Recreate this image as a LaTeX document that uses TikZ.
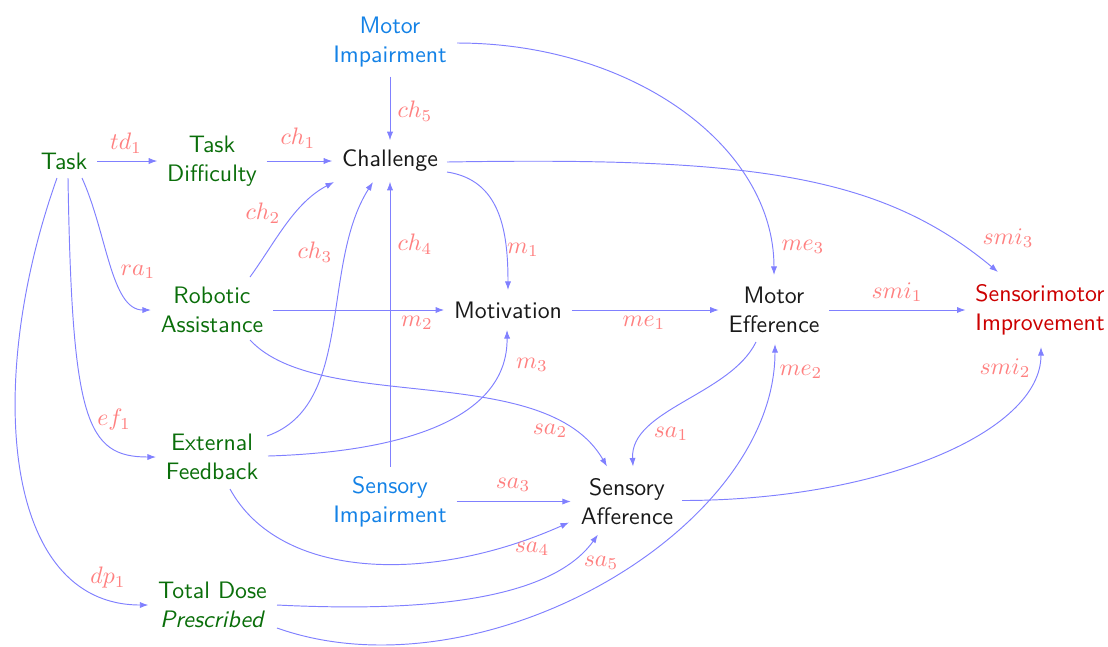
\documentclass[tikz,border=0pt]{standalone}
\usetikzlibrary{arrows.meta}
\definecolor{nodegreen}{RGB}{10,110,10}
\definecolor{impblue}{RGB}{20,130,230}
\definecolor{outred}{RGB}{204,0,0}
\definecolor{edgeblue}{RGB}{128,128,255}
\definecolor{labred}{RGB}{255,128,128}
\definecolor{nodeblack}{RGB}{25,25,25}
\begin{document}
\begin{tikzpicture}[x=0.42pt,y=0.42pt,
  box/.style={font=\sffamily, align=center, outer sep=0.8pt},
  gr/.style={box, text=nodegreen},
  bl/.style={box, text=impblue},
  rd/.style={box, text=outred},
  bk/.style={box, text=nodeblack},
  edge/.style={draw=edgeblue, line width=0.4pt, -{Latex[length=3.6pt,width=2.6pt]}},
  lab/.style={text=labred, inner sep=0pt}]
\useasboundingbox (0,0) rectangle (1108,-646);

% nodes
\node[gr] (task) at (64,-161) {Task};
\node[gr] (td) at (212,-161) {Task\\Difficulty};
\node[bk] (ch) at (390,-161) {Challenge};
\node[bl] (mi) at (390,-42) {Motor\\Impairment};
\node[gr] (ra) at (212,-310) {Robotic\\Assistance};
\node[bk] (mot) at (508,-310) {Motivation};
\node[bk] (me) at (774,-310) {Motor\\Efference};
\node[rd] (smi) at (1040,-310) {Sensorimotor\\Improvement};
\node[gr] (ef) at (212,-457) {External\\Feedback};
\node[bl] (sip) at (390,-501.5) {Sensory\\Impairment};
\node[bk] (sa) at (627,-501.5) {Sensory\\Afference};
\node[gr] (dose) at (212.5,-605) {Total Dose\\\textit{Prescribed}};

% straight connectors
\draw[edge] (task) -- (td);
\draw[edge] (td) -- (ch);
\draw[edge] (mi) -- (ch);
\draw[edge] (sip) -- (ch);
\draw[edge] (ra) -- (mot);
\draw[edge] (mot) -- (me);
\draw[edge] (sip) -- (sa);
\draw[edge] (me) -- (smi);

% curved connectors
\draw[edge] ([shift={(38,33)}]ra.center) .. controls +(26,36) and +(-40,-21) .. ([shift={(-56,-21)}]ch.center);
\draw[edge] ([shift={(55,21)}]ef.center) .. controls +(88,31) and +(-53,-83) .. ([shift={(-17,-21)}]ch.center);
\draw[edge] ([shift={(18,-17)}]task.center) .. controls +(25,-55) and +(-40,0) .. (ra.west);
\draw[edge] ([shift={(4,-17)}]task.center) .. controls +(4,-242) and +(-70,0) .. (ef.west);
\draw[edge] ([shift={(-7,-17)}]task.center) .. controls +(-72,-202) and +(-147,0) .. (dose.west);
\draw[edge] ([shift={(57,-11)}]ch.center) .. controls +(53,-8) and +(0,60) .. ([shift={(0,20)}]mot.center);
\draw[edge] ([shift={(56,1)}]ef.center) .. controls +(132,4) and +(1,-90) .. ([shift={(-1,-20)}]mot.center);
\draw[edge] ([shift={(67,-1)}]mi.center) .. controls +(175,0) and +(0,129) .. ([shift={(0,35)}]me.center);
\draw[edge] ([shift={(64.5,-23)}]dose.center) .. controls +(203,-72) and +(0,-187) .. ([shift={(1,-34)}]me.center);
\draw[edge] ([shift={(-18,-32)}]me.center) .. controls +(-26,-53) and +(-3,57) .. ([shift={(6,35)}]sa.center);
\draw[edge] ([shift={(38,-30)}]ra.center) .. controls +(70,-75) and +(-62,107) .. ([shift={(-20,35)}]sa.center);
\draw[edge] ([shift={(18,-32)}]ef.center) .. controls +(50,-91) and +(-139,-62) .. ([shift={(-58,-21)}]sa.center);
\draw[edge] ([shift={(64.5,0)}]dose.center) .. controls +(143,-7) and +(-48,-67) .. ([shift={(-29,-33)}]sa.center);
\draw[edge] ([shift={(55,1)}]sa.center) .. controls +(198,0) and +(0,-85) .. ([shift={(1,-37)}]smi.center);
\draw[edge] ([shift={(57,-1)}]ch.center) .. controls +(303,5) and +(-118,98) .. ([shift={(-42,38)}]smi.center);

% labels
\node[lab] (ltd1) at (126,-143) {$td_1$};
\node[lab] (lch1) at (298,-138) {$ch_1$};
\node[lab] (lch2) at (263,-213) {$ch_2$};
\node[lab] (lch3) at (315,-252) {$ch_3$};
\node[lab] (lch4) at (415,-244) {$ch_4$};
\node[lab] (lch5) at (415,-111) {$ch_5$};
\node[lab] (lra1) at (138,-272) {$ra_1$};
\node[lab] (lef1) at (114,-420) {$ef_1$};
\node[lab] (ldp1) at (108,-578) {$dp_1$};
\node[lab] (lm1) at (523,-250) {$m_1$};
\node[lab] (lm2) at (417,-323) {$m_2$};
\node[lab] (lm3) at (532,-365) {$m_3$};
\node[lab] (lme1) at (644,-323) {$me_1$};
\node[lab] (lme2) at (801,-372) {$me_2$};
\node[lab] (lme3) at (803,-247) {$me_3$};
\node[lab] (lsa1) at (671,-434) {$sa_1$};
\node[lab] (lsa2) at (550,-431) {$sa_2$};
\node[lab] (lsa3) at (513,-485) {$sa_3$};
\node[lab] (lsa4) at (532,-549) {$sa_4$};
\node[lab] (lsa5) at (601,-563) {$sa_5$};
\node[lab] (lsmi1) at (897,-292) {$smi_1$};
\node[lab] (lsmi2) at (1005,-368) {$smi_2$};
\node[lab] (lsmi3) at (1008,-238) {$smi_3$};
\end{tikzpicture}
\end{document}
